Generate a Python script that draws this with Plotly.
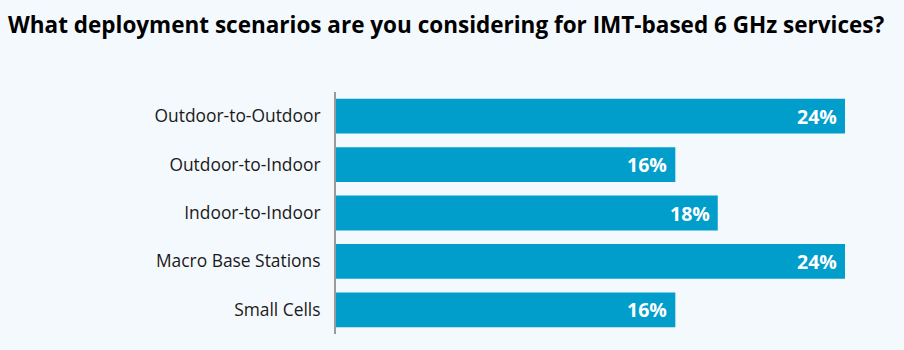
import plotly.graph_objects as go

categories = ["Outdoor-to-Outdoor", "Outdoor-to-Indoor", "Indoor-to-Indoor", "Macro Base Stations", "Small Cells"]
values = [24, 16, 18, 24, 16]
title_text = "What deployment scenarios are you considering for IMT-based 6 GHz services?"

bar_color = "#019dcb"
bg = "#f4f9fd"

fig = go.Figure(go.Bar(
    x=values,
    y=categories,
    orientation="h",
    marker=dict(color=bar_color, line=dict(width=0)),
    width=0.72,
    hoverinfo="skip",
))

for c, v in zip(categories, values):
    fig.add_annotation(
        x=v, y=c, xref="x", yref="y",
        text=f"{v}%", showarrow=False,
        xanchor="right", yanchor="middle", xshift=-6,
        font=dict(family="Open Sans", size=19.5, color="white", weight="bold"),
    )

fig.update_layout(
    width=904, height=350,
    paper_bgcolor=bg, plot_bgcolor=bg,
    margin=dict(l=336, r=59, t=92, b=16),
    showlegend=False,
    title=dict(
        text=title_text,
        font=dict(family="Open Sans", size=22.5, color="#000000", weight="bold"),
        x=8/904, xanchor="left", xref="container",
        y=1-25/350, yanchor="middle", yref="container",
    ),
    xaxis=dict(range=[0, 24], visible=False, fixedrange=True),
    yaxis=dict(
        autorange="reversed",
        showline=True, linecolor="#9a9a9a", linewidth=2,
        showgrid=False, zeroline=False,
        ticks="", ticklabelstandoff=10,
        tickfont=dict(family="Open Sans", size=17.4, color="#1a1a1a"),
    ),
)

fig.write_html("out.html")
